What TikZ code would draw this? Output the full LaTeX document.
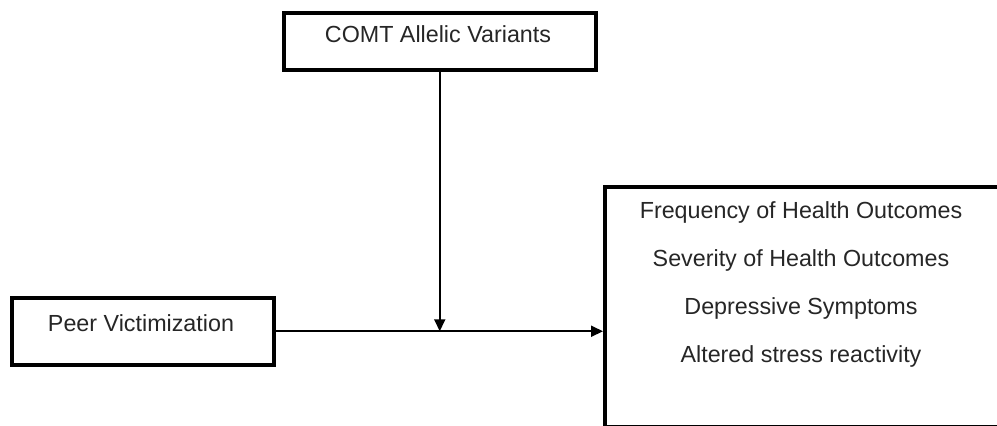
\documentclass[tikz,border=0pt]{standalone}
\usepackage{fontspec}
\setmainfont{Liberation Sans}
\usetikzlibrary{arrows.meta}

\tikzset{
  varbox/.style={draw, line width=3.5pt, inner sep=0pt, anchor=north west},
  vartext/.style={inner sep=0.75pt, font=\fontsize{23.3}{28}\selectfont, text=black!85},
  conn/.style={line width=2pt, -{Triangle[length=12pt,width=11pt]}}
}

\begin{document}
\begin{tikzpicture}[x=1pt,y=1pt,yscale=-1,xscale=1]
		\useasboundingbox (0,0) rectangle (997,426);
		\clip (0,0) rectangle (997,426);
		
		% Moderator box
		\node [varbox, minimum width=312pt, minimum height=57pt] (comt) at (282,11) {};
		\node [vartext] (comtlbl) at (438,34) {COMT Allelic Variants};
		
		% Predictor box
		\node [varbox, minimum width=262pt, minimum height=67pt] (peer) at (10,296) {};
		\node [vartext] (peerlbl) at (141,323) {Peer Victimization};
		
		% Outcome box
		\node [varbox, minimum width=396pt, minimum height=240pt] (outc) at (603,185) {};
		\node [vartext] (freq) at (801,212) {Frequency of Health Outcomes};
		\node [vartext] (sev) at (801,260) {Severity of Health Outcomes};
		\node [vartext] (dep) at (801,308) {Depressive Symptoms};
		\node [vartext] (stress) at (801,356) {Altered stress reactivity};
		
		% Connections
		\draw [conn] (peer.east) -- (peer.east -| outc.west);
		\draw [conn] (comt.south) -- (comt.south |- peer.east);
		
\end{tikzpicture}
\end{document}
